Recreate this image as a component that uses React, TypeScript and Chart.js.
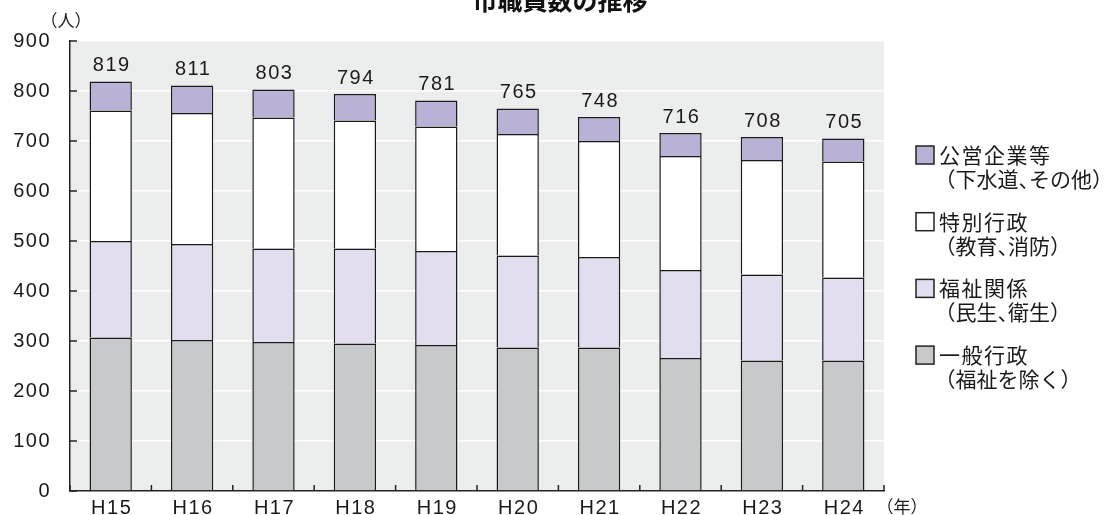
import React, { useEffect, useRef } from "react";
import { Chart, registerables } from "chart.js";

Chart.register(...registerables);

const TITLE = "市職員数の推移";
const CATEGORIES = ["H15", "H16", "H17", "H18", "H19", "H20", "H21", "H22", "H23", "H24"];
const GENERAL = [307, 302, 298, 295, 292, 287, 287, 266, 261, 261];
const WELFARE = [193, 192, 187, 190, 188, 184, 181, 176, 172, 166];
const SPECIAL = [261, 262, 262, 256, 249, 243, 232, 228, 229, 232];
const PUBLIC_ENT = [58, 55, 56, 53, 52, 51, 48, 46, 46, 46];
const TOTALS = [819, 811, 803, 794, 781, 765, 748, 716, 708, 705];
const Y_TICKS = [0, 100, 200, 300, 400, 500, 600, 700, 800, 900];

const LEGEND = [
  { line1: "公営企業等", line2: "（下水道、その他）", color: "#b9b1d6" },
  { line1: "特別行政", line2: "（教育、消防）", color: "#ffffff" },
  { line1: "福祉関係", line2: "（民生、衛生）", color: "#e2def0" },
  { line1: "一般行政", line2: "（福祉を除く）", color: "#c8c9cb" },
];

const JP = '"Noto Sans CJK JP", "Noto Sans", sans-serif';
const NUM = '"Liberation Sans", Arial, sans-serif';

function drawPalt(ctx: CanvasRenderingContext2D, text: string, x: number, y: number, size: number) {
  let cx = x;
  for (const ch of Array.from(text)) {
    if (ch === "（") {
      ctx.fillText(ch, cx - size * 0.5, y);
      cx += size * 0.5;
    } else if (ch === "）" || ch === "、") {
      ctx.fillText(ch, cx, y);
      cx += size * 0.5;
    } else {
      ctx.fillText(ch, cx, y);
      cx += ctx.measureText(ch).width;
    }
  }
}

export default function App() {
  const ref = useRef<HTMLCanvasElement | null>(null);

  useEffect(() => {
    if (!ref.current) return;
    const decor = {
      id: "decor",
      beforeDraw(chart: any) {
        const { ctx, chartArea } = chart;
        ctx.save();
        ctx.fillStyle = "#eceeed";
        ctx.fillRect(chartArea.left, chartArea.top, chartArea.right - chartArea.left, chartArea.bottom - chartArea.top);
        ctx.restore();
      },
      afterDraw(chart: any) {
        const { ctx, chartArea, scales } = chart;
        ctx.save();
        // title (cut off at top)
        ctx.fillStyle = "#111";
        ctx.font = `bold 25px ${JP}`;
        ctx.textAlign = "center";
        ctx.textBaseline = "middle";
        ctx.fillText(TITLE, 560, 0);

        // inward ticks on y axis
        ctx.strokeStyle = "#222";
        ctx.lineWidth = 1.5;
        const ys = scales.y;
        Y_TICKS.forEach((v) => {
          const y = ys.getPixelForValue(v);
          ctx.beginPath();
          ctx.moveTo(chartArea.left, y);
          ctx.lineTo(chartArea.left + 7, y);
          ctx.stroke();
        });
        // ticks on x axis at category boundaries
        for (let i = 0; i <= CATEGORIES.length; i++) {
          const x = chartArea.left + ((chartArea.right - chartArea.left) * i) / CATEGORIES.length;
          ctx.beginPath();
          ctx.moveTo(x, chartArea.bottom);
          ctx.lineTo(x, chartArea.bottom - 6);
          ctx.stroke();
        }

        ctx.fillStyle = "#1a1a1a";
        (ctx as any).letterSpacing = "1.5px";
        // y tick labels
        ctx.font = `20px ${NUM}`;
        ctx.textAlign = "right";
        ctx.textBaseline = "middle";
        Y_TICKS.forEach((v) => {
          ctx.fillText(String(v), 51, ys.getPixelForValue(v));
        });
        // x tick labels
        ctx.textAlign = "center";
        const xs = scales.x;
        CATEGORIES.forEach((c, i) => {
          ctx.fillText(c, xs.getPixelForValue(i) + 1, 508);
        });

        // totals
        const meta = chart.getDatasetMeta(3);
        ctx.textBaseline = "bottom";
        meta.data.forEach((bar: any, i: number) => {
          ctx.fillText(String(TOTALS[i]), bar.x + 1, bar.y - 6);
        });
        (ctx as any).letterSpacing = "0px";

        // unit labels
        ctx.font = `17px ${JP}`;
        ctx.textBaseline = "middle";
        ctx.fillText("（人）", 66, 21);
        ctx.fillText("（年）", 902, 507);

        // legend
        ctx.textAlign = "left";
        LEGEND.forEach((item, i) => {
          const cy = 155 + i * 66.7;
          ctx.fillStyle = item.color;
          ctx.fillRect(916, cy - 9, 18, 18);
          ctx.strokeStyle = "#222";
          ctx.lineWidth = 1.5;
          ctx.strokeRect(916, cy - 9, 18, 18);
          ctx.fillStyle = "#1a1a1a";
          ctx.font = `21px ${JP}`;
          (ctx as any).letterSpacing = "1.5px";
          ctx.fillText(item.line1, 939, cy);
          (ctx as any).letterSpacing = "0px";
          drawPalt(ctx, item.line2, 945, cy + 24, 21);
        });
        ctx.restore();
      },
    };

    const ds = (label: string, data: number[], color: string) => ({
      label,
      data,
      backgroundColor: color,
      borderColor: "#1a1a1a",
      borderWidth: 1.5,
      borderSkipped: "bottom" as const,
      categoryPercentage: 1,
      barPercentage: 0.52,
    });

    const chart = new Chart(ref.current, {
      type: "bar",
      data: {
        labels: CATEGORIES,
        datasets: [
          ds(LEGEND[3].line1, GENERAL, LEGEND[3].color),
          ds(LEGEND[2].line1, WELFARE, LEGEND[2].color),
          ds(LEGEND[1].line1, SPECIAL, LEGEND[1].color),
          ds(LEGEND[0].line1, PUBLIC_ENT, LEGEND[0].color),
        ],
      },
      options: {
        responsive: false,
        animation: false,
        layout: { padding: { left: 0, right: 227, top: 41, bottom: 0 } },
        plugins: {
          legend: { display: false },
          tooltip: { enabled: false },
          title: { display: false },
        },
        scales: {
          x: {
            stacked: true,
            grid: { display: false, drawTicks: false },
            border: { display: true, color: "#222", width: 1.5 },
            ticks: { display: false },
            afterFit(scale: any) {
              scale.height = 24;
            },
          },
          y: {
            stacked: true,
            min: 0,
            max: 900,
            afterBuildTicks(scale: any) {
              scale.ticks = Y_TICKS.map((v) => ({ value: v }));
            },
            grid: { color: "#ffffff", lineWidth: 1.5, drawTicks: false },
            border: { display: true, color: "#222", width: 1.5 },
            ticks: { display: false },
            afterFit(scale: any) {
              scale.width = 70;
            },
          },
        },
      },
      plugins: [decor],
    });
    return () => chart.destroy();
  }, []);

  return (
    <div style={{ position: "absolute", left: 0, top: 0, width: 1111, height: 515 }}>
      <canvas ref={ref} width={1111} height={515} style={{ width: 1111, height: 515, display: "block" }} />
    </div>
  );
}
